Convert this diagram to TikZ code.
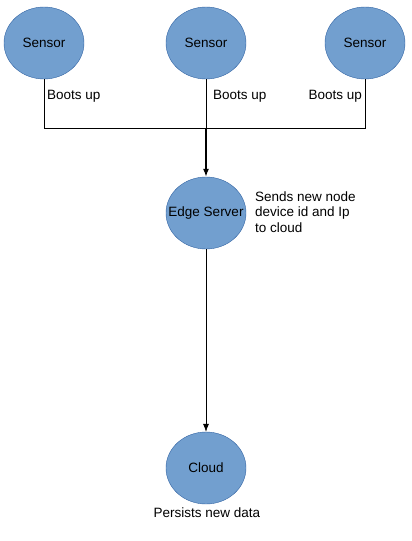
\documentclass[tikz,border=0pt]{standalone}
\usepackage{fontspec}
\setmainfont{Liberation Sans}
\usetikzlibrary{shapes.geometric,arrows.meta}
\definecolor{bubblefill}{HTML}{729FCF}
\definecolor{bubbleline}{HTML}{3465A4}
\tikzset{
    bubble/.style={draw=bubbleline, fill=bubblefill, ellipse, inner sep=0pt,
        minimum width=80pt, minimum height=72pt, font=\fontsize{13.5}{15.5}\selectfont},
    note/.style={inner sep=0pt, font=\fontsize{13.5}{15.5}\selectfont, align=left},
    wire/.style={draw=black, line width=0.6pt},
    tip/.style={-{Latex[length=8pt,width=6pt]}},
}
\begin{document}
\begin{tikzpicture}[x=1pt, y=-1pt]
    \useasboundingbox (0,0) rectangle (412,541);
    \node[bubble] (sensA) at (44,43) {Sensor};
    \node[bubble] (sensB) at (206,43) {Sensor};
    \node[bubble] (sensC) at (365,43) {Sensor};
    
    \node[bubble, inner xsep=-12pt] (edge) at (206,213) {Edge Server};
    \node[bubble] (cloud) at (206,468) {Cloud};
    
    \coordinate (join) at (206,128);
    
    \node[note, anchor=west] (bootA) at (47,96) {Boots up};
    \node[note, anchor=west] (bootB) at (213,96) {Boots up};
    \node[note, anchor=east] (bootC) at (362,96) {Boots up};
    \node[note, anchor=west] (sends) at (255,212) {Sends new node\\device id and Ip\\to cloud};
    \node[note] (persists) at (207,513) {Persists new data};
    
    \draw[wire] (sensA.south) |- (join); \draw[wire] (sensC.south) |- (join); \draw[wire] (sensB.south) -- (join);
    \draw[wire, line width=1.2pt, tip] (join) -- (edge.north);
    \draw[wire, tip] (edge.south) -- (cloud.north);
\end{tikzpicture}
\end{document}
